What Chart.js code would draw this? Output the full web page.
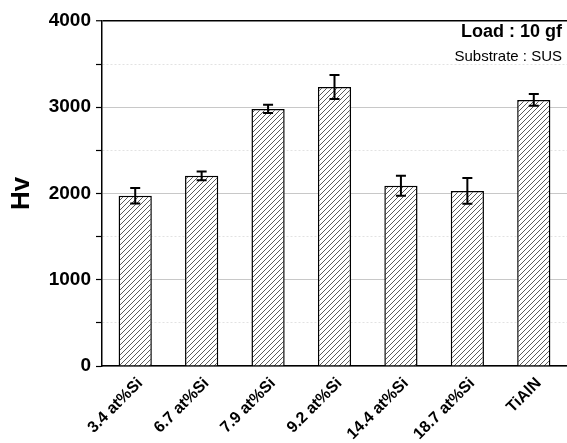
<!DOCTYPE html>
<html>
<head>
<meta charset="utf-8">
<script src="https://cdn.jsdelivr.net/npm/chart.js@4.4.1/dist/chart.umd.min.js"></script>
<style>
    body { margin: 0; background: #fff; }
    #HardnessChart { display: block; }
</style>
</head>
<body>
<canvas id="HardnessChart" width="567" height="443"></canvas>
<script>
const samples = ['3.4 at%Si', '6.7 at%Si', '7.9 at%Si', '9.2 at%Si', '14.4 at%Si', '18.7 at%Si', 'TiAlN'];
const hardness = [1975, 2205, 2980, 3235, 2090, 2030, 3085];
const hardness_err = [90, 50, 48, 140, 115, 150, 68];

// diagonal hatch used as bar fill
function hatch_pattern() {
    const size = 5;
    const c = document.createElement('canvas');
    c.width = size;
    c.height = size;
    const p = c.getContext('2d');
    p.fillStyle = '#ffffff';
    p.fillRect(0, 0, size, size);
    p.strokeStyle = '#5a5a5a';
    p.lineWidth = 1;
    p.beginPath();
    p.moveTo(0, size);
    p.lineTo(size, 0);
    p.moveTo(-size / 2, size / 2);
    p.lineTo(size / 2, -size / 2);
    p.moveTo(size / 2, size * 1.5);
    p.lineTo(size * 1.5, size / 2);
    p.stroke();
    return p.createPattern(c, 'repeat');
}

const errorBars = {
    id: 'errorBars',
    afterDatasetsDraw(chart) {
        const ctx = chart.ctx;
        const meta = chart.getDatasetMeta(0);
        const y = chart.scales.y;
        ctx.save();
        ctx.strokeStyle = '#000';
        ctx.lineWidth = 2;
        meta.data.forEach(function(bar, i) {
            const top = y.getPixelForValue(hardness[i] + hardness_err[i]);
            const bot = y.getPixelForValue(hardness[i] - hardness_err[i]);
            ctx.beginPath();
            ctx.moveTo(bar.x, top);
            ctx.lineTo(bar.x, bot);
            ctx.moveTo(bar.x - 5, top);
            ctx.lineTo(bar.x + 5, top);
            ctx.moveTo(bar.x - 5, bot);
            ctx.lineTo(bar.x + 5, bot);
            ctx.stroke();
        });
        ctx.restore();
    }
};

const noteText = {
    id: 'noteText',
    afterDraw(chart) {
        const ctx = chart.ctx;
        ctx.save();
        ctx.fillStyle = '#000';
        ctx.textAlign = 'right';
        ctx.textBaseline = 'middle';
        ctx.font = 'bold 18px "Liberation Sans", Arial, sans-serif';
        ctx.fillText('Load : 10 gf', 562, 32);
        ctx.font = '15px "Liberation Sans", Arial, sans-serif';
        ctx.fillText('Substrate : SUS', 562, 57);
        ctx.restore();
    }
};

const ctx = document.getElementById('HardnessChart').getContext('2d');

new Chart(ctx, {
    type: 'bar',
    data: {
        labels: samples,
        datasets: [
            {
                label: 'Hv',
                data: hardness,
                backgroundColor: hatch_pattern(),
                borderColor: '#000',
                borderWidth: 1.5,
                barPercentage: 0.5,
                categoryPercentage: 1.0
            }
        ]
    },
    options: {
        responsive: false,
        animation: false,
        layout: {
            padding: { top: 21, right: 0, left: 0, bottom: 0 }
        },
        plugins: {
            legend: { display: false },
            tooltip: { enabled: false }
        },
        scales: {
            x: {
                afterFit: function(scale) { scale.height = 77; },
                ticks: {
                    color: '#000',
                    maxRotation: 45,
                    minRotation: 45,
                    padding: 0,
                    labelOffset: 5,
                    font: { family: '"Liberation Sans", Arial, sans-serif', size: 16, weight: 'bold' }
                },
                grid: { display: false },
                border: { color: '#000', width: 1.5 }
            },
            y: {
                min: 0,
                max: 4000,
                afterFit: function(scale) { scale.width = 102; },
                ticks: {
                    stepSize: 500,
                    color: '#000',
                    padding: 5,
                    font: { family: '"Liberation Sans", Arial, sans-serif', size: 19, weight: 'bold' },
                    callback: function(value) {
                        return value % 1000 === 0 ? value : '';
                    }
                },
                grid: {
                    tickLength: 6,
                    tickColor: '#000',
                    tickWidth: 1.2,
                    color: function(c) {
                        if (!c.tick) return '#c8c8c8';
                        if (c.tick.value === 4000) return '#000';
                        return c.tick.value % 1000 === 0 ? '#c8c8c8' : '#e2e2e2';
                    },
                    lineWidth: function(c) {
                        return c.tick && c.tick.value === 4000 ? 1.5 : 1;
                    }
                },
                border: {
                    color: '#000',
                    width: 1.5,
                    dash: function(c) {
                        if (!c.tick) return [];
                        return c.tick.value % 1000 === 0 ? [] : [2, 2];
                    }
                },
                title: {
                    display: true,
                    text: 'Hv',
                    color: '#000',
                    padding: { top: 6, bottom: 0 },
                    font: { family: '"Liberation Sans", Arial, sans-serif', size: 26, weight: 'bold' }
                }
            }
        }
    },
    plugins: [errorBars, noteText]
});
</script>
</body>
</html>
